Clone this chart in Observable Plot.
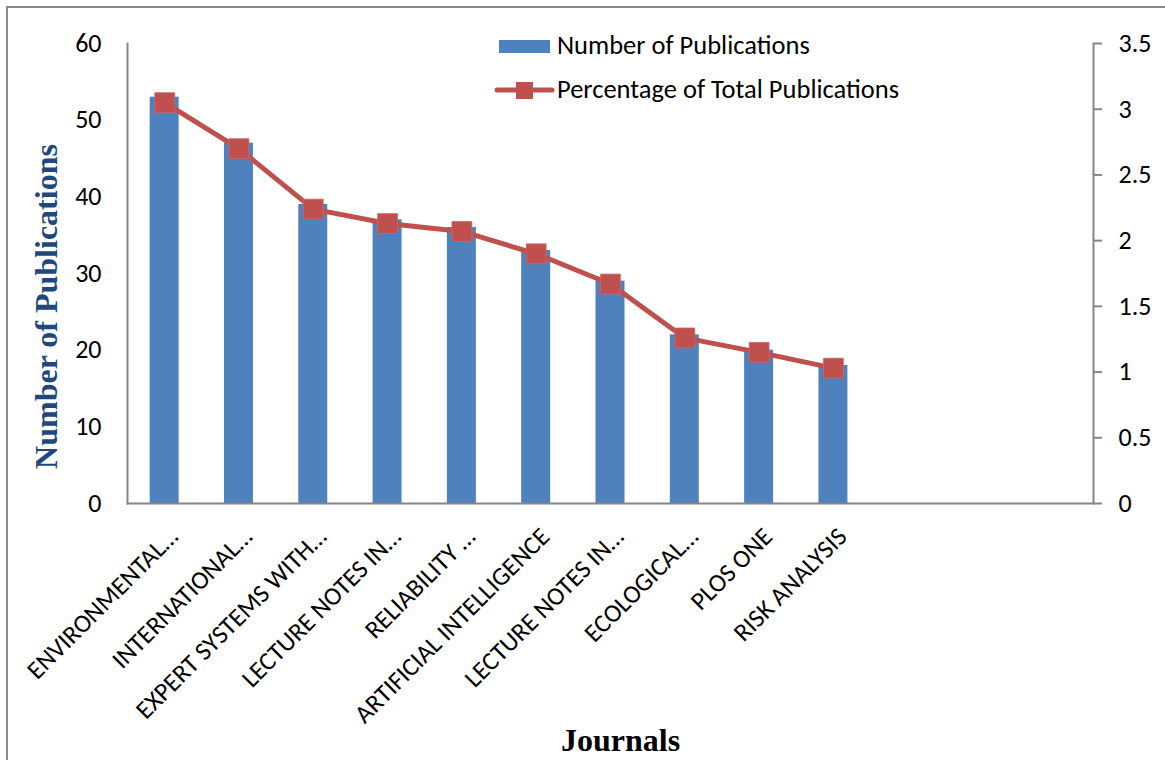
<!DOCTYPE html>
<html>
<head>
<meta charset="utf-8">
<script src="https://cdn.jsdelivr.net/npm/d3@7"></script>
<script src="https://cdn.jsdelivr.net/npm/@observablehq/plot@0.6"></script>
<style>
  html, body { margin: 0; padding: 0; background: #fff; overflow: hidden; }
  #wrap { position: relative; width: 1165px; height: 760px; overflow: hidden; background: #fff; }
  #border { position: absolute; left: 6px; top: 6px; width: 3000px; height: 3000px; border: 2px solid #8a8a8a; box-sizing: border-box; }
  #chart { position: absolute; left: 0; top: 0; }
  #legend { position: absolute; left: 0; top: 0; }
</style>
</head>
<body>
<div id="wrap">
  <div id="border"></div>
  <div id="chart"></div>
  <svg id="legend" width="1165" height="120"></svg>
</div>
<script>
// ---- data ----
const journals = [
  "ENVIRONMENTAL…",
  "INTERNATIONAL…",
  "EXPERT SYSTEMS WITH…",
  "LECTURE NOTES IN…",
  "RELIABILITY …",
  "ARTIFICIAL INTELLIGENCE",
  "LECTURE NOTES IN…",
  "ECOLOGICAL…",
  "PLOS ONE",
  "RISK ANALYSIS"
];
const publications = [53, 47, 39, 37, 36, 33, 29, 22, 20, 18];
const percentages = [3.05, 2.70, 2.24, 2.13, 2.07, 1.90, 1.67, 1.26, 1.15, 1.03];
const emptySlots = 3; // empty category slots at the right of the x axis
const countTicks = [0, 10, 20, 30, 40, 50, 60];
const percentTicks = [0, 0.5, 1, 1.5, 2, 2.5, 3, 3.5];
const seriesNames = ["Number of Publications", "Percentage of Total Publications"];
const yTitle = "Number of Publications";
const xTitle = "Journals";

// ---- chart ----
const yMax = 60, pctMax = 3.5, k = yMax / pctMax;
const barColor = "#4F81BD", lineColor = "#C0504D", axisColor = "#868686";
const font = "Calibri, Carlito, Lato, sans-serif";
const serif = "'Liberation Serif', 'Times New Roman', serif";

const data = journals.map((j, i) => ({i, journal: j, pubs: publications[i], pct: percentages[i]}));
const slots = d3.range(journals.length + emptySlots);

const plot = Plot.plot({
  width: 1165,
  height: 760,
  marginLeft: 127,
  marginRight: 72,
  marginTop: 43,
  marginBottom: 257,
  style: {fontFamily: font, background: "transparent", color: "#000", overflow: "visible"},
  x: {type: "band", domain: slots, paddingInner: 0.61, paddingOuter: 0.305, round: false},
  y: {domain: [0, yMax]},
  marks: [
    Plot.barY(data, {x: "i", y: "pubs", fill: barColor}),
    Plot.frame({anchor: "left", stroke: axisColor, strokeWidth: 2}),
    Plot.frame({anchor: "right", stroke: axisColor, strokeWidth: 2}),
    Plot.frame({anchor: "bottom", stroke: axisColor, strokeWidth: 2}),
    Plot.line(data, {x: "i", y: d => d.pct * k, stroke: lineColor, strokeWidth: 5}),
    Plot.dot(data, {x: "i", y: d => d.pct * k, symbol: "square", r: 11.2, fill: lineColor, stroke: "#c96a67", strokeWidth: 0.8}),
    Plot.axisY({anchor: "left", ticks: countTicks, tickSize: 0, tickPadding: 26, fontSize: 26, label: null}),
    Plot.axisY({anchor: "right", ticks: percentTicks.map(v => v * k), tickFormat: v => String(Math.round(v / k * 10) / 10),
      tickSize: 8, tickPadding: 17, fontSize: 26, label: null, stroke: axisColor, strokeWidth: 2}),
    Plot.axisX({ticks: slots, tickFormat: i => journals[i] ?? "", tickRotate: -45, tickSize: 0, tickPadding: 12,
      fontSize: 25.5, label: null, dx: 9, dy: 17}),
    Plot.text([yTitle], {frameAnchor: "left", text: d => d, rotate: -90, textAnchor: "middle", lineAnchor: "middle",
      dx: -81, dy: 33, fontSize: 32, fontWeight: "bold", fontFamily: serif, fill: "#1F497D"}),
    Plot.text([xTitle], {frameAnchor: "bottom", text: d => d, textAnchor: "middle", lineAnchor: "middle",
      dx: 10, dy: 237, fontSize: 32, fontWeight: "bold", fontFamily: serif, fill: "#000"})
  ]
});
document.getElementById("chart").appendChild(plot);

// ---- legend ----
const lg = d3.select("#legend");
lg.append("rect").attr("x", 499).attr("y", 40).attr("width", 51).attr("height", 13).attr("fill", barColor);
lg.append("text").attr("x", 557).attr("y", 54).attr("font-family", font).attr("font-size", 26.5).attr("fill", "#000").text(seriesNames[0]);
lg.append("line").attr("x1", 497).attr("x2", 552).attr("y1", 90).attr("y2", 90).attr("stroke", lineColor).attr("stroke-width", 5).attr("stroke-linecap", "round");
lg.append("rect").attr("x", 516).attr("y", 82).attr("width", 17).attr("height", 17).attr("fill", lineColor);
lg.append("text").attr("x", 557).attr("y", 98).attr("font-family", font).attr("font-size", 26.5).attr("fill", "#000").text(seriesNames[1]);
</script>
</body>
</html>
